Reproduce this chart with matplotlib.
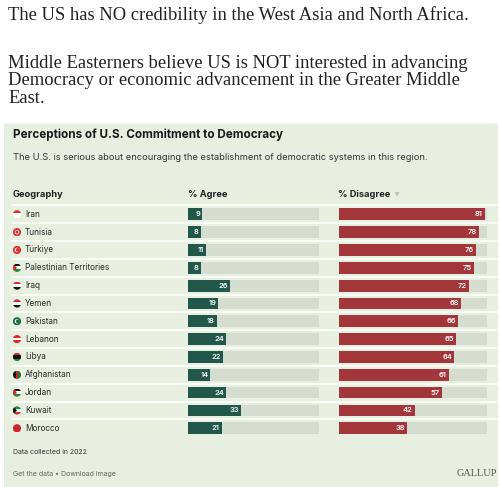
import matplotlib
matplotlib.use("Agg")
import matplotlib.pyplot as plt
from matplotlib.patches import Rectangle, Circle, Polygon

countries = ["Iran", "Tunisia", "Türkiye", "Palestinian Territories", "Iraq", "Yemen",
             "Pakistan", "Lebanon", "Libya", "Afghanistan", "Jordan", "Kuwait", "Morocco"]
agree = [9, 8, 11, 8, 26, 19, 18, 24, 22, 14, 24, 33, 21]
disagree = [81, 78, 76, 75, 72, 68, 66, 65, 64, 61, 57, 42, 38]

# rough flag look: horizontal stripes top -> bottom, plus optional hoist triangle
flags = {
    "Iran": (["#da2a2a", "#ffffff", "#ffffff"], None),
    "Tunisia": (["#e02a2a"], "ring"),
    "Türkiye": (["#e02a2a"], "crescent"),
    "Palestinian Territories": (["#111111", "#ffffff", "#1f8a3a"], "#d62a2a"),
    "Iraq": (["#d62a2a", "#ffffff", "#111111"], None),
    "Yemen": (["#d62a2a", "#ffffff", "#111111"], None),
    "Pakistan": (["#1b6b3a"], "crescent"),
    "Lebanon": (["#e02a2a", "#ffffff", "#e02a2a"], None),
    "Libya": (["#d62a2a", "#111111", "#111111", "#1f8a3a"], None),
    "Afghanistan": (["#111111", "#c0282a", "#1f7a3a"], "vertical"),
    "Jordan": (["#111111", "#ffffff", "#1f8a3a"], "#d62a2a"),
    "Kuwait": (["#1f8a3a", "#ffffff", "#d62a2a"], "#111111"),
    "Morocco": (["#c8262c"], None),
}

W, H = 500, 487
PANEL = "#e6efe0"
TRACK = "#d4ddcf"
GREEN = "#22574c"
RED = "#a2363a"
TEXT = "#222222"

fig = plt.figure(figsize=(W / 100, H / 100), dpi=100)
fig.patch.set_facecolor("white")

# overlay axes in pixel coordinates for the page furniture
bg = fig.add_axes([0, 0, 1, 1])
bg.set_xlim(0, W)
bg.set_ylim(H, 0)
bg.axis("off")

serif = ["Liberation Serif", "DejaVu Serif"]
sans = ["Inter", "DejaVu Sans"]

bg.text(8, 15, "The US has NO credibility in the West Asia and North Africa.",
        fontsize=13.4, family=serif, color=TEXT, va="center")
for k, line in enumerate(["Middle Easterners believe US is NOT interested in advancing",
                          "Democracy or economic advancement in the Greater Middle",
                          "East."]):
    bg.text(8, 63 + k * 17.7, line, fontsize=13.4, family=serif, color=TEXT, va="center")

bg.add_patch(Rectangle((4, 123), 494, H - 123, facecolor=PANEL, edgecolor="none"))
bg.plot([4, 498], [123, 123], color="#f4f7f1", lw=1)

bg.text(13, 134.5, "Perceptions of U.S. Commitment to Democracy", fontsize=8.4,
        fontweight="bold", family=sans, color="#1a1a1a", va="center")
bg.text(13, 157.5, "The U.S. is serious about encouraging the establishment of democratic systems in this region.",
        fontsize=6.7, family=sans, color="#333333", va="center")

head = dict(fontsize=6.7, fontweight="bold", family=sans, color="#222222", va="center")
bg.text(13, 194.5, "Geography", **head)
bg.text(188, 194.5, "% Agree", **head)
bg.text(338.5, 194.5, "% Disagree", **head)
bg.text(395, 194.5, "▼", fontsize=4, family=["DejaVu Sans"], color="#b5bcb2", va="center")

row0, row_h = 205.4, 17.83
n = len(countries)

for i in range(n):
    y = row0 + i * row_h
    bg.plot([12, 497], [y, y], color="white", lw=1.1)
    cy = y + row_h / 2
    bg.text(25, cy, countries[i], fontsize=5.9, family=sans, color="#2a2a2a", va="center")

    # flag disc
    stripes, extra = flags[countries[i]]
    cx, r = 17, 4.1
    clip = Circle((cx, cy), r, transform=bg.transData)
    if extra == "vertical":
        sw = 2 * r / len(stripes)
        for j, c in enumerate(stripes):
            p = bg.add_patch(Rectangle((cx - r + j * sw, cy - r), sw, 2 * r, facecolor=c, edgecolor="none"))
            p.set_clip_path(clip)
    else:
        sh = 2 * r / len(stripes)
        for j, c in enumerate(stripes):
            p = bg.add_patch(Rectangle((cx - r, cy - r + j * sh), 2 * r, sh, facecolor=c, edgecolor="none"))
            p.set_clip_path(clip)
    if extra == "ring":
        bg.add_patch(Circle((cx, cy), r * 0.55, facecolor="white", edgecolor="none"))
        bg.add_patch(Circle((cx, cy), r * 0.35, facecolor="#e02a2a", edgecolor="none"))
    elif extra == "crescent":
        bg.add_patch(Circle((cx, cy), r * 0.55, facecolor="white", edgecolor="none"))
        fill = stripes[0]
        bg.add_patch(Circle((cx + r * 0.2, cy), r * 0.45, facecolor=fill, edgecolor="none"))
    elif extra is not None and extra.startswith("#"):
        p = bg.add_patch(Polygon([(cx - r, cy - r), (cx - r, cy + r), (cx, cy)],
                                 facecolor=extra, edgecolor="none"))
        p.set_clip_path(clip)

# bar columns: each track spans the same maximum
track_max = 82
top_frac = 1 - row0 / H
ax_h = n * row_h / H


def bar_column(x0, x1, values, color):
    ax = fig.add_axes([x0 / W, top_frac - ax_h, (x1 - x0) / W, ax_h])
    ax.set_xlim(0, track_max)
    ax.set_ylim(n - 0.5, -0.5)
    ax.axis("off")
    ax.patch.set_alpha(0)
    ys = range(n)
    ax.barh(ys, [track_max] * n, height=0.66, color=TRACK, edgecolor="none")
    ax.barh(ys, values, height=0.66, color=color, edgecolor="none")
    for yy, v in zip(ys, values):
        ax.text(v - 1.2, yy, str(v), ha="right", va="center", fontsize=5.4,
                color="white", family=sans, fontweight="semibold")
    return ax


bar_column(188, 319, agree, GREEN)
bar_column(338.7, 486.7, disagree, RED)

bg.text(13, 452.5, "Data collected in 2022", fontsize=5.0, family=sans, color="#333333", va="center")
bg.text(13, 474, "Get the data • Download image", fontsize=5.0, family=sans, color="#666666", va="center")
bg.text(497, 473.5, "GALLUP", fontsize=7.4, family=serif, color="#555555", va="center", ha="right")

fig.savefig("out.png", dpi=100, facecolor=fig.get_facecolor())
